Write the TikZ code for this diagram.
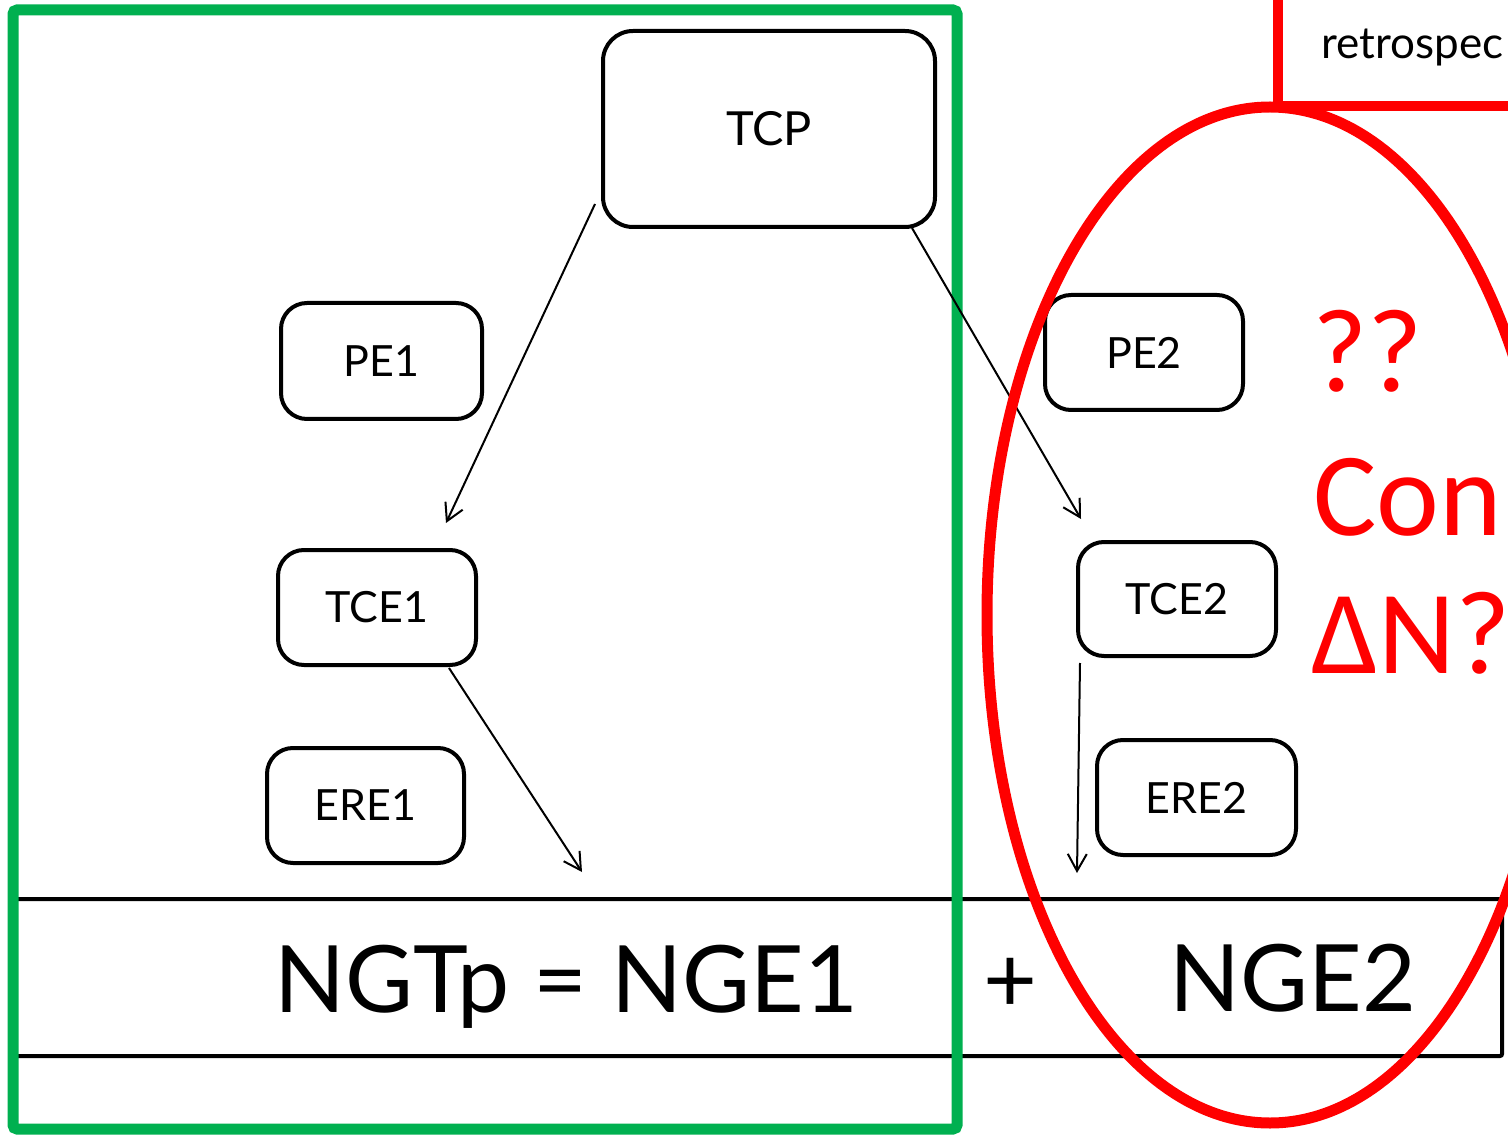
\documentclass[tikz,border=0pt]{standalone}
\usepackage{fontspec}
\setmainfont{Lato}
\newfontfamily\redfont{Carlito}
\usetikzlibrary{arrows.meta}
\definecolor{bgreen}{HTML}{00B050}
\definecolor{bred}{HTML}{FF0000}
\tikzset{
  bx/.style={draw=black, line width=4pt, rounded corners=26pt, inner sep=0pt,
    font=\fontsize{43}{50}\selectfont},
  arr/.style={draw=black, line width=2pt, -{Straight Barb[length=17pt,width=19pt,line width=2pt]}},
  redtxt/.style={text=bred, inner sep=0pt, anchor=base west, font=\redfont\fontsize{119}{140}\selectfont},
  bigtxt/.style={inner sep=0pt, anchor=base, font=\fontsize{93}{110}\selectfont}
}
\begin{document}
\begin{tikzpicture}[x=1pt,y=-1pt]
\clip (0,0) rectangle (1508,1139);
\fill[white] (0,0) rectangle (1508,1139);
% equation bar
\draw[line width=4pt, rounded corners=2pt] (13,899) rectangle (1502,1056);
\node[bigtxt] (eq) at (566,1012) {NGTp = NGE1};
\node[bigtxt] (plus) at (1010,1012) {+};
\node[bigtxt] (nge2) at (1293,1011) {NGE2};
% boxes
\node[bx, minimum width=332pt, minimum height=196pt, rounded corners=30pt,
  font=\fontsize{47}{56}\selectfont] (tcp) at (769,129) {TCP};
\node[bx, minimum width=201pt, minimum height=116pt] (pe1) at (381.5,361) {PE1};
\node[bx, minimum width=198pt, minimum height=115pt] (tce1) at (377,607.5) {TCE1};
\node[bx, minimum width=197pt, minimum height=115pt] (ere1) at (365.5,805.5) {ERE1};
\node[bx, minimum width=198pt, minimum height=115pt] (pe2) at (1144,352.5) {PE2};
\node[bx, minimum width=198pt, minimum height=114pt] (tce2) at (1177,599) {TCE2};
\node[bx, minimum width=199pt, minimum height=115pt] (ere2) at (1196.5,797.5) {ERE2};
% green frame
\draw[bgreen, line width=11pt, rounded corners=4pt] (13,10) rectangle (957,1129);
% arrows
\coordinate (a1s) at (595,204);
\coordinate (a1e) at (446,523);
\coordinate (a2s) at (912,228);
\coordinate (a2e) at (1081,519);
\coordinate (a3s) at (449,668);
\coordinate (a3e) at (582,872);
\coordinate (a4s) at (1080,663);
\coordinate (a4e) at (1077,873);
\draw[arr] (a1s) -- (a1e);
\draw[arr] (a2s) -- (a2e);
\draw[arr] (a3s) -- (a3e);
\draw[arr] (a4s) -- (a4e);
% red shapes
\draw[bred, line width=10pt] (1278,-20) -- (1278,106) -- (1530,106);
\node[inner sep=0pt, anchor=base west, font=\fontsize{44}{52}\selectfont] (retro) at (1321,59) {retrospec};
\draw[bred, line width=11pt] (1270,615) ellipse [x radius=283pt, y radius=508pt];
\node[redtxt] (qq) at (1312,392) {??};
\node[redtxt] (con) at (1313,535) {Con};
\node[redtxt] (dn) at (1311,673) {ΔN?};
\end{tikzpicture}
\end{document}
